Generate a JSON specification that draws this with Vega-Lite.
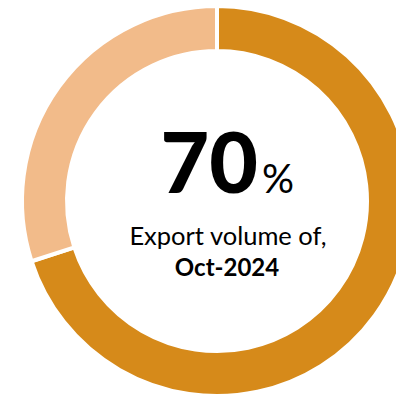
{
  "$schema": "https://vega.github.io/schema/vega-lite/v6.json",
  "width": 396,
  "height": 398,
  "autosize": {"type": "none"},
  "padding": 0,
  "background": "white",
  "config": {"view": {"stroke": null}},
  "layer": [
    {
      "data": {"values": [
        {"segment": "Oct-2024", "value": 70, "order": 1},
        {"segment": "Rest", "value": 30, "order": 2}
      ]},
      "mark": {"type": "arc", "outerRadius": 195, "innerRadius": 150, "stroke": "white", "strokeWidth": 4, "xOffset": 19, "yOffset": 2},
      "encoding": {
        "theta": {"field": "value", "type": "quantitative", "stack": true},
        "order": {"field": "order", "type": "quantitative"},
        "color": {"field": "segment", "type": "nominal", "scale": {"domain": ["Oct-2024", "Rest"], "range": ["#D68A1A", "#F2BB8A"]}, "legend": null}
      }
    },
    {
      "data": {"values": [{"label": "70"}]},
      "mark": {"type": "text", "font": "Lato", "fontWeight": 900, "fontSize": 84, "align": "right", "baseline": "alphabetic", "dx": 60, "dy": -6, "color": "black"},
      "encoding": {"text": {"field": "label", "type": "nominal"}}
    },
    {
      "data": {"values": [{"label": "%"}]},
      "mark": {"type": "text", "font": "Lato", "fontSize": 40, "align": "left", "baseline": "alphabetic", "dx": 64, "dy": -6, "color": "black"},
      "encoding": {"text": {"field": "label", "type": "nominal"}}
    },
    {
      "data": {"values": [{"label": "Export volume of,"}]},
      "mark": {"type": "text", "font": "Lato", "fontSize": 25.5, "align": "center", "baseline": "alphabetic", "dx": 30, "dy": 46, "color": "black"},
      "encoding": {"text": {"field": "label", "type": "nominal"}}
    },
    {
      "data": {"values": [{"label": "Oct-2024"}]},
      "mark": {"type": "text", "font": "Lato", "fontWeight": "bold", "fontSize": 24, "align": "center", "baseline": "alphabetic", "dx": 29, "dy": 77, "color": "black"},
      "encoding": {"text": {"field": "label", "type": "nominal"}}
    }
  ]
}
